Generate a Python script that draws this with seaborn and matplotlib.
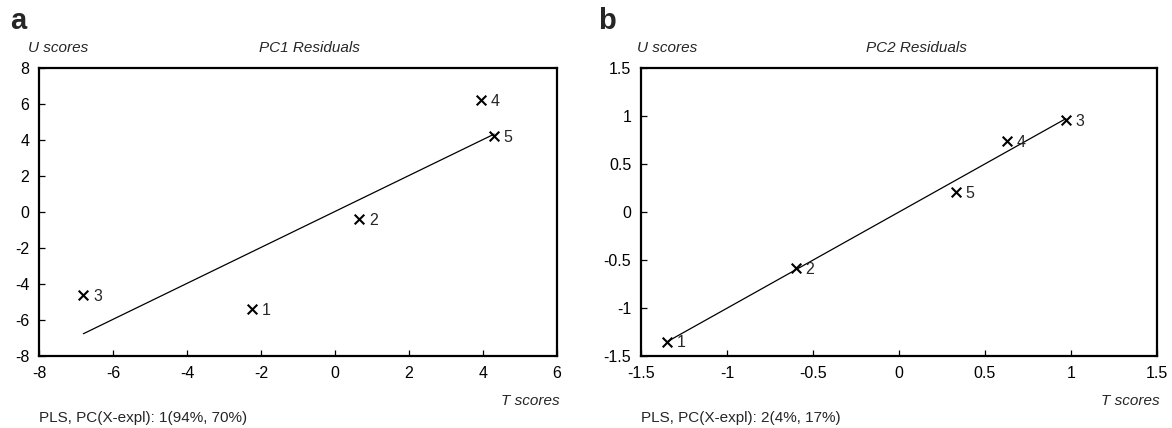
import matplotlib
matplotlib.use("Agg")
import matplotlib.pyplot as plt
import seaborn as sns
import numpy as np
import pandas as pd

# ---- data ----
labels = ["1", "2", "3", "4", "5"]
pc1_t = [-2.25, 0.65, -6.8, 3.95, 4.3]
pc1_u = [-5.4, -0.4, -4.6, 6.2, 4.2]
pc2_t = [-1.35, -0.6, 0.97, 0.63, 0.33]
pc2_u = [-1.35, -0.58, 0.96, 0.74, 0.21]

pc1_xticks = [-8, -6, -4, -2, 0, 2, 4, 6]
pc1_yticks = [-8, -6, -4, -2, 0, 2, 4, 6, 8]
pc2_ticks = [-1.5, -1, -0.5, 0, 0.5, 1, 1.5]
pc2_ticklabels = ["-1.5", "-1", "-0.5", "0", "0.5", "1", "1.5"]

titles = ["PC1 Residuals", "PC2 Residuals"]
footers = ["PLS, PC(X-expl): 1(94%, 70%)", "PLS, PC(X-expl): 2(4%, 17%)"]
panel_letters = ["a", "b"]

sns.set_style("white")
plt.rcParams["font.family"] = ["Liberation Sans", "DejaVu Sans"]
plt.rcParams["axes.unicode_minus"] = False

W, H = 1172, 428
fig = plt.figure(figsize=(W / 100, H / 100), dpi=100)

def fx(px):
    return px / W

def fy(py):
    return 1 - py / H

top, bottom = 68, 356
axes_px = [(39, 557), (641, 1157)]
axs = []
for (l, r) in axes_px:
    ax = fig.add_axes([fx(l), fy(bottom), fx(r - l), (bottom - top) / H])
    axs.append(ax)

datasets = [(pc1_t, pc1_u), (pc2_t, pc2_u)]
for i, (ax, (t, u)) in enumerate(zip(axs, datasets)):
    df = pd.DataFrame({"T": t, "U": u, "lab": labels})
    sns.regplot(data=df, x="T", y="U", scatter=False, ci=None, truncate=True,
                color="black", line_kws={"linewidth": 0.9}, ax=ax)
    sns.scatterplot(data=df, x="T", y="U", marker="x", color="black", s=48,
                    linewidth=1.5, ax=ax, zorder=3)
    for _, row in df.iterrows():
        ax.annotate(row["lab"], (row["T"], row["U"]), xytext=(7, -1),
                    textcoords="offset points", fontsize=11.5, va="center", ha="left")
    ax.set_xlabel("")
    ax.set_ylabel("")
    for sp in ax.spines.values():
        sp.set_linewidth(1.6)
        sp.set_color("black")
    ax.tick_params(direction="in", length=4, width=0.9, labelsize=11.5,
                   colors="black", left=True, bottom=True, pad=7)

axs[0].set_xlim(-8, 6)
axs[0].set_ylim(-8, 8)
axs[0].set_xticks(pc1_xticks)
axs[0].set_yticks(pc1_yticks)
axs[1].set_xlim(-1.5, 1.5)
axs[1].set_ylim(-1.5, 1.5)
axs[1].set_xticks(pc2_ticks)
axs[1].set_xticklabels(pc2_ticklabels)
axs[1].set_yticks(pc2_ticks)
axs[1].set_yticklabels(pc2_ticklabels)

# texts
letter_x = [10, 598]
ulab_x = [28, 637]
title_x = [309, 916]
for i, ax in enumerate(axs):
    l, r = axes_px[i]
    fig.text(fx(letter_x[i]), fy(29), panel_letters[i], fontsize=21, fontweight="bold",
             ha="left", va="baseline")
    fig.text(fx(ulab_x[i]), fy(52), "U scores", fontsize=11, style="italic",
             ha="left", va="baseline")
    fig.text(fx(title_x[i]), fy(52), titles[i], fontsize=11, style="italic",
             ha="center", va="baseline")
    fig.text(fx(r + 3), fy(405), "T scores", fontsize=11, style="italic",
             ha="right", va="baseline")
    fig.text(fx(l), fy(422), footers[i], fontsize=11, ha="left", va="baseline")

fig.savefig("out.png", dpi=100)
